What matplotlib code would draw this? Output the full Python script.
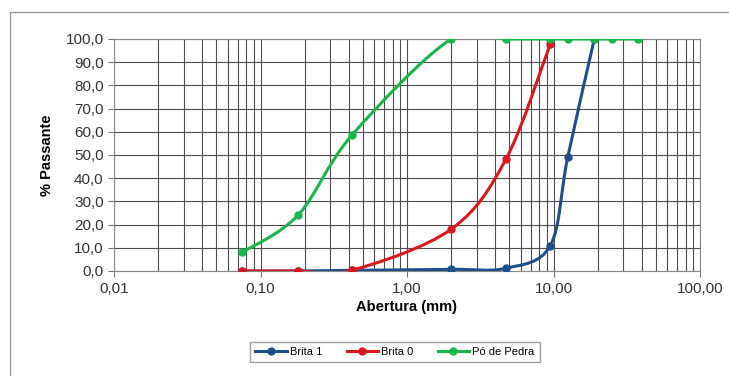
import numpy as np
import matplotlib.pyplot as plt
from matplotlib.path import Path
from matplotlib.patches import PathPatch, Rectangle
from matplotlib.ticker import FixedLocator, LogLocator, NullFormatter

plt.rcParams['font.family'] = ['Liberation Sans', 'DejaVu Sans']

# sieve openings (mm) and % passing
brita1_x = [0.075, 0.18, 0.42, 2.0, 4.75, 9.5, 12.5, 19.0]
brita1_y = [0.0, 0.0, 0.3, 0.7, 1.2, 10.9, 49.0, 100.0]
brita0_x = [0.075, 0.18, 0.42, 2.0, 4.75, 9.5]
brita0_y = [0.0, 0.0, 0.3, 18.0, 48.4, 97.8]
po_x = [0.075, 0.18, 0.42, 2.0, 4.75, 9.5, 12.5, 19.0, 25.0, 37.5]
po_y = [8.0, 24.0, 58.5, 100.0, 100.0, 100.0, 100.0, 100.0, 100.0, 100.0]

series = [
    ("Brita 1", brita1_x, brita1_y, "#1f4e8c"),
    ("Brita 0", brita0_x, brita0_y, "#d9181e"),
    ("Pó de Pedra", po_x, po_y, "#1ab54a"),
]


def smooth_path(x, y, t=1 / 6):
    # Excel-style smoothed line as cubic bezier segments (in log-x space)
    lx = np.log10(x)
    y = np.asarray(y, float)
    pts = np.column_stack([lx, y])
    n = len(pts)
    verts = [pts[0]]
    codes = [Path.MOVETO]
    for i in range(n - 1):
        p0 = pts[i - 1] if i > 0 else pts[i]
        p1, p2 = pts[i], pts[i + 1]
        p3 = pts[i + 2] if i + 2 < n else pts[i + 1]
        c1 = p1 + (p2 - p0) * t
        c2 = p2 - (p3 - p1) * t
        verts += [c1, c2, p2]
        codes += [Path.CURVE4] * 3
    verts = np.array(verts)
    verts[:, 0] = 10 ** verts[:, 0]
    return Path(verts, codes)


fig = plt.figure(figsize=(7.29, 3.76), dpi=100)
ax = fig.add_axes([114 / 729, 1 - 271 / 376, (700 - 114) / 729, (271 - 39) / 376])

fig.patches.append(Rectangle((10 / 729, -0.1), 1.2, 1 - 12 / 376 + 0.1,
                             transform=fig.transFigure, fill=False,
                             edgecolor="#9a9a9a", linewidth=1.0))

ax.set_xscale("log")
ax.set_xlim(0.01, 100)
ax.set_ylim(0, 100)

for name, x, y, c in series:
    ax.add_patch(PathPatch(smooth_path(x, y), facecolor="none", edgecolor=c,
                           linewidth=2.2, zorder=3))
    ax.plot(x, y, color=c, marker="o", markersize=5, linewidth=0, zorder=4)

ax.xaxis.set_major_locator(FixedLocator([0.01, 0.1, 1, 10, 100]))
ax.set_xticklabels(["0,01", "0,10", "1,00", "10,00", "100,00"])
ax.xaxis.set_minor_locator(LogLocator(base=10, subs=np.arange(2, 10)))
ax.xaxis.set_minor_formatter(NullFormatter())
yt = np.arange(0, 101, 10)
ax.set_yticks(yt)
ax.set_yticklabels([f"{v:.1f}".replace(".", ",") for v in yt])

ax.grid(True, which="both", axis="x", color="#4d4d4d", linewidth=0.8)
ax.grid(True, which="major", axis="y", color="#4d4d4d", linewidth=0.8)
ax.tick_params(axis="both", which="major", labelsize=11, colors="#333333",
               length=4, width=0.8, color="#777777")
ax.tick_params(axis="x", which="major", pad=4)
ax.tick_params(axis="x", which="minor", length=0)
for s in ax.spines.values():
    s.set_color("#888888")
    s.set_linewidth(0.8)

ax.set_xlabel("Abertura (mm)", fontsize=10.5, fontweight="bold", labelpad=3)
ax.set_ylabel("% Passante", fontsize=10.5, fontweight="bold", labelpad=8)

leg_handles = [plt.Line2D([], [], color=c, marker="o", markersize=5, linewidth=2.2)
               for _, _, _, c in series]
fig.legend(leg_handles, [s[0] for s in series], loc="center",
           bbox_to_anchor=(395 / 729, 1 - 352 / 376), ncol=3, fontsize=8,
           frameon=True, fancybox=False, edgecolor="#888888",
           handlelength=2.8, handletextpad=0.3, columnspacing=2.2,
           borderpad=0.45)

fig.savefig("out.png", dpi=100)
